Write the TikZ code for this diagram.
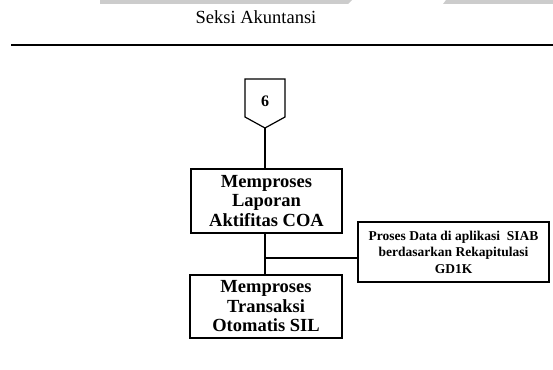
\documentclass[tikz,border=0pt]{standalone}
\usepackage{fontspec}
\setmainfont{Liberation Serif}
\begin{document}
\begin{tikzpicture}[x=1pt,y=-1pt,
  procbox/.style={draw, line width=1.2pt, inner sep=0pt, align=center,
    font=\fontsize{18.5}{19.5}\selectfont\bfseries},
  notebox/.style={draw, line width=1.2pt, inner sep=0pt, align=center,
    font=\fontsize{13.5}{16.5}\selectfont\bfseries},
  link/.style={line width=1.2pt}]
\useasboundingbox (0,0) rectangle (553,369);
% top gray bars
\fill[gray!40] (100,0) -- (352,0) -- (348,4) -- (100,4) -- cycle;
\fill[gray!40] (446,0) -- (553,0) -- (553,4) -- (443,4) -- cycle;
% title and rule
\node (title) at (256,17) {\fontsize{18.5}{20}\selectfont Seksi Akuntansi};
\draw[line width=2.5pt] (11,45) -- (553,45);
% off-page connector
\draw[line width=1.2pt] (245,79) -- (285,79) -- (285,117) -- (265,128) -- (245,117) -- cycle;
\node (six) at (265,101) {\fontsize{16}{18}\selectfont\bfseries 6};
\coordinate (op) at (265,128);
% boxes
\node[procbox, minimum width=151pt, minimum height=64pt] (b1) at (266.5,201)
  {Memproses\\Laporan\\Aktifitas COA};
\node[procbox, minimum width=152pt, minimum height=63pt] (b2) at (266,306.5)
  {Memproses\\Transaksi\\Otomatis SIL};
\node[notebox, minimum width=191pt, minimum height=60pt] (b3) at (453.5,252)
  {Proses Data di aplikasi \ SIAB\\berdasarkan Rekapitulasi\\GD1K};
% connectors
\draw[link] (op) -- (op |- b1.north);
\draw[link] (b1.south -| op) -- (b2.north -| op);
\coordinate (j) at (265,258);
\draw[link] (j) -- (j -| b3.west);
\end{tikzpicture}
\end{document}
